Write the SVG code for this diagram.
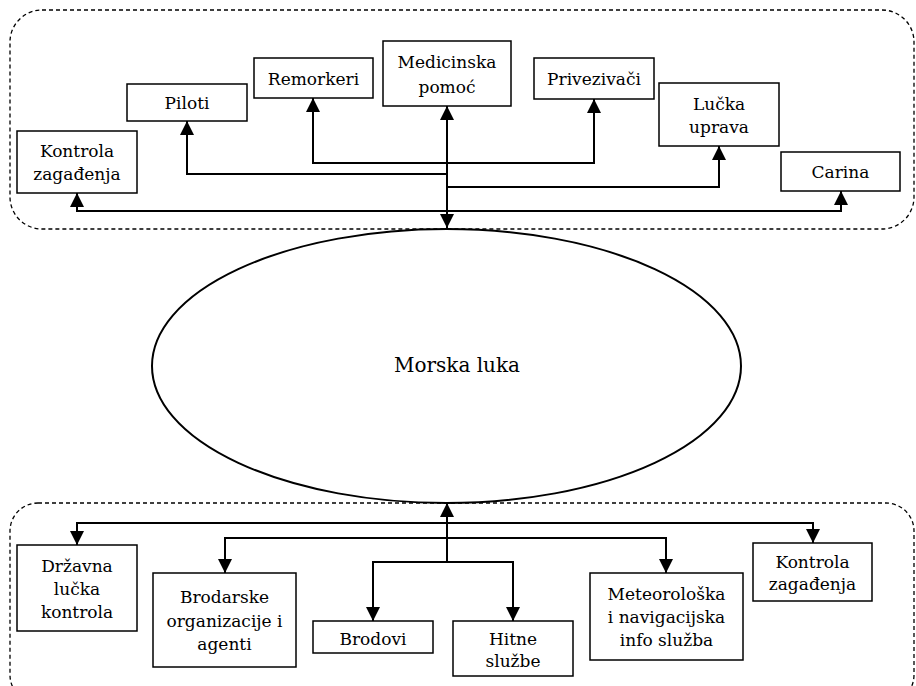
<svg xmlns="http://www.w3.org/2000/svg" width="916" height="686" viewBox="0 0 916 686">
<style>
.grp{fill:none;stroke:#000;stroke-width:1.3;stroke-dasharray:4 3}
.box{fill:#fff;stroke:#000;stroke-width:1.5}
.con{fill:none;stroke:#000;stroke-width:2}
.t{font-family:'DejaVu Serif','Liberation Serif',serif;font-size:17px;fill:#000;text-anchor:middle}
</style>
<defs>
<marker id="ah" markerUnits="userSpaceOnUse" markerWidth="14" markerHeight="14" viewBox="0 0 12 12" refX="12" refY="6" orient="auto-start-reverse">
<path d="M0,0 L12,6 L0,12 Z" fill="#000"/>
</marker>
</defs>
<rect width="916" height="686" fill="#fff"/>
<rect class="grp" x="10" y="10" width="904" height="219" rx="32" ry="32"/>
<rect class="grp" x="10" y="503" width="904" height="200" rx="28" ry="28"/>
<g id="morska-luka">
<ellipse cx="446.5" cy="366" rx="294.5" ry="137" fill="none" stroke="#000" stroke-width="2"/>
<text class="t" x="457" y="372" style="font-size:20px">Morska luka</text>
</g>
<g id="connectors">
<path class="con" d="M447,228 V106" marker-start="url(#ah)" marker-end="url(#ah)"/>
<path class="con" d="M447,163 H313 V98" marker-end="url(#ah)"/>
<path class="con" d="M447,163 H594 V99" marker-end="url(#ah)"/>
<path class="con" d="M447,174 H187 V121" marker-end="url(#ah)"/>
<path class="con" d="M447,187 H719 V146" marker-end="url(#ah)"/>
<path class="con" d="M447,211 H77 V193" marker-end="url(#ah)"/>
<path class="con" d="M447,211 H841 V191" marker-end="url(#ah)"/>
<path class="con" d="M447,562 V503" marker-end="url(#ah)"/>
<path class="con" d="M447,523 H77 V545" marker-end="url(#ah)"/>
<path class="con" d="M447,523 H813 V543" marker-end="url(#ah)"/>
<path class="con" d="M447,538 H225 V573" marker-end="url(#ah)"/>
<path class="con" d="M447,538 H666 V573" marker-end="url(#ah)"/>
<path class="con" d="M447,562 H373 V621" marker-end="url(#ah)"/>
<path class="con" d="M447,562 H513 V621" marker-end="url(#ah)"/>
</g>
<g id="kontrola-top">
<rect class="box" x="17" y="131" width="120" height="62"/>
<text class="t" x="77" y="157">Kontrola</text>
<text class="t" x="77" y="180">zagađenja</text>
</g>
<g id="piloti">
<rect class="box" x="127" y="84" width="120" height="37"/>
<text class="t" x="187" y="109">Piloti</text>
</g>
<g id="remorkeri">
<rect class="box" x="254" y="58" width="119" height="40"/>
<text class="t" x="313.5" y="85">Remorkeri</text>
</g>
<g id="medicinska">
<rect class="box" x="383" y="41" width="128" height="65"/>
<text class="t" x="447" y="68">Medicinska</text>
<text class="t" x="447" y="93">pomoć</text>
</g>
<g id="privezivaci">
<rect class="box" x="534" y="58" width="120" height="41"/>
<text class="t" x="594" y="85">Privezivači</text>
</g>
<g id="lucka-uprava">
<rect class="box" x="659" y="83" width="120" height="63"/>
<text class="t" x="719" y="110">Lučka</text>
<text class="t" x="719" y="133">uprava</text>
</g>
<g id="carina">
<rect class="box" x="781" y="152" width="119" height="39"/>
<text class="t" x="840.5" y="178">Carina</text>
</g>
<g id="drzavna">
<rect class="box" x="17" y="545" width="120" height="86"/>
<text class="t" x="77" y="572">Državna</text>
<text class="t" x="77" y="595">lučka</text>
<text class="t" x="77" y="618">kontrola</text>
</g>
<g id="brodarske">
<rect class="box" x="153" y="573" width="143" height="94"/>
<text class="t" x="224.5" y="603">Brodarske</text>
<text class="t" x="224.5" y="627">organizacije i</text>
<text class="t" x="224.5" y="650">agenti</text>
</g>
<g id="brodovi">
<rect class="box" x="313" y="621" width="120" height="32"/>
<text class="t" x="373" y="645">Brodovi</text>
</g>
<g id="hitne">
<rect class="box" x="453" y="621" width="120" height="55"/>
<text class="t" x="513" y="645">Hitne</text>
<text class="t" x="513" y="667">službe</text>
</g>
<g id="meteoroloska">
<rect class="box" x="590" y="573" width="153" height="87"/>
<text class="t" x="666.5" y="600">Meteorološka</text>
<text class="t" x="666.5" y="623">i navigacijska</text>
<text class="t" x="666.5" y="646">info služba</text>
</g>
<g id="kontrola-bottom">
<rect class="box" x="753" y="543" width="119" height="58"/>
<text class="t" x="812.5" y="568">Kontrola</text>
<text class="t" x="812.5" y="590">zagađenja</text>
</g>
</svg>
